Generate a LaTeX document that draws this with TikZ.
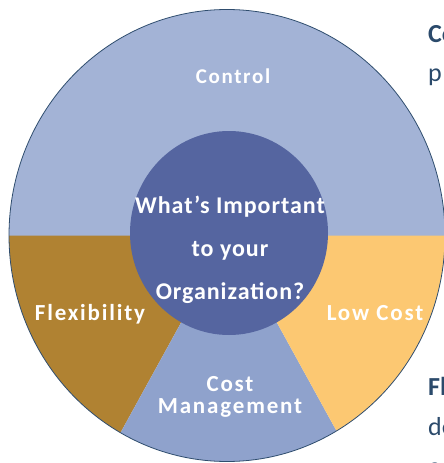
\documentclass[tikz,border=0pt]{standalone}
\usepackage{fontspec}
\setmainfont{Carlito}
\definecolor{ctrlblue}{HTML}{A3B3D6}
\definecolor{mgmtblue}{HTML}{8FA2CC}
\definecolor{flexbrown}{HTML}{B08232}
\definecolor{costgold}{HTML}{FCC872}
\definecolor{hubblue}{HTML}{5565A0}
\definecolor{rimblue}{HTML}{2F4D6E}
\definecolor{notetext}{HTML}{2B4A6B}
\begin{document}
\begin{tikzpicture}[x=1pt,y=-1pt,
				seg/.style={text=white, inner sep=0, anchor=base,
					font=\fontsize{23}{24}\selectfont\bfseries\addfontfeature{LetterSpace=8}},
				hub/.style={text=white, inner sep=0, align=center,
					font=\fontsize{24}{43}\selectfont\bfseries\addfontfeature{LetterSpace=4}},
				note/.style={text=notetext, inner sep=0, anchor=base west,
					font=\fontsize{26}{26}\selectfont}]
				
				\useasboundingbox (0,0) rectangle (444,463);
				\clip (0,0) rectangle (444,463);
				\coordinate (apex) at (229,235.5);
				
				% wedges of the wheel
				\begin{scope}
				\clip (-300,235.5) rectangle (800,-300);
				\fill [ctrlblue] (227,235.5) ellipse [x radius=218, y radius=226];
				\end{scope}
				\begin{scope}
				\clip (apex) -- (-300,235.5) -- (-300,700) -- (-26.6,700) -- cycle;
				\fill [flexbrown] (227,235.5) ellipse [x radius=218, y radius=226];
				\end{scope}
				\begin{scope}
				\clip (apex) -- (-26.6,700) -- (484.6,700) -- cycle;
				\fill [mgmtblue] (227,235.5) ellipse [x radius=218, y radius=226];
				\end{scope}
				\begin{scope}
				\clip (apex) -- (484.6,700) -- (800,700) -- (800,235.5) -- cycle;
				\fill [costgold] (227,235.5) ellipse [x radius=218, y radius=226];
				\end{scope}
				\draw [rimblue, line width=0.8pt] (227,235.5) ellipse [x radius=218, y radius=226];
				\fill [hubblue] (229,233) ellipse [x radius=99, y radius=102];
				
				\node [seg, font=\fontsize{21}{22}\selectfont\bfseries\addfontfeature{LetterSpace=8}] (control) at (233,83) {Control};
				\node [seg] (flex) at (90,320) {Flexibility};
				\node [seg] (lowcost) at (375,320) {Low Cost};
				\node [seg] (cost) at (230,391) {Cost};
				\node [seg] (mgmt) at (230,413) {Management};
				\node [hub] (question) at (230,250) {What’s Important\\to your\\Organization?};
				
				% text cut off at the right edge
				\node [note, font=\fontsize{26}{26}\selectfont\bfseries] (ctrlnote) at (428,42) {Co};
				\node [note] (ctrlnote2) at (428,81) {p};
				\node [note, font=\fontsize{26}{26}\selectfont\bfseries] (flexnote) at (428,395) {Fl};
				\node [note] (flexnote2) at (428,435) {de};
				\node [note] (flexnote3) at (428,475) {e};
				\end{tikzpicture}
\end{document}
